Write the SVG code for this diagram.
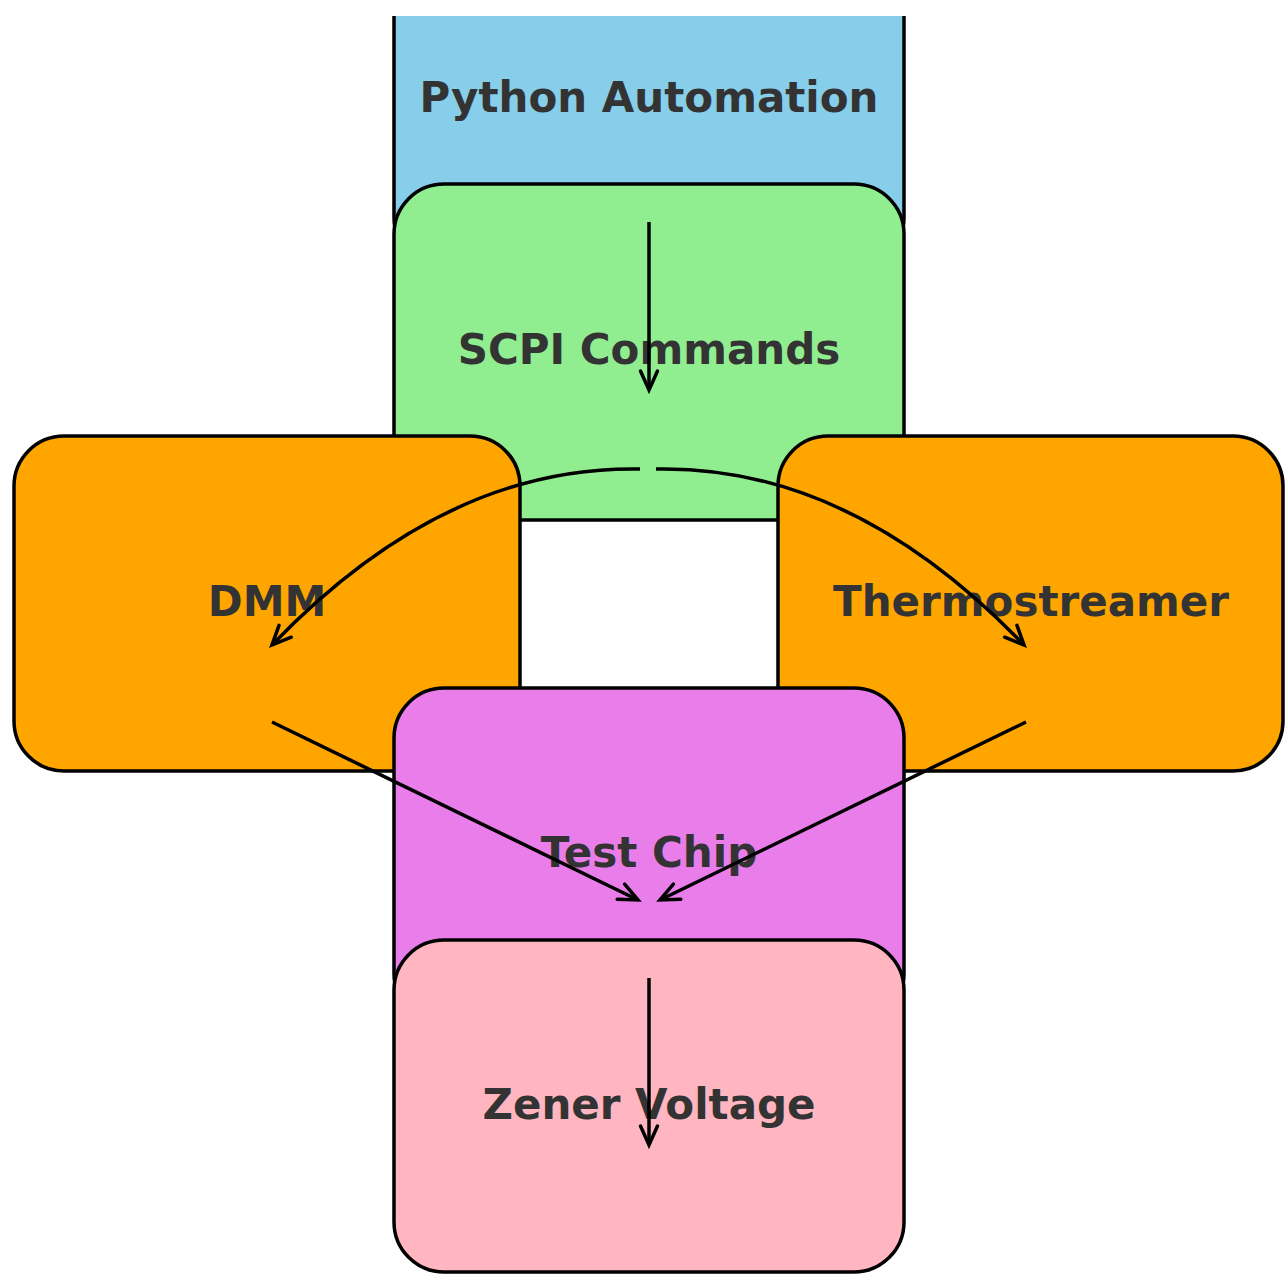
<svg xmlns="http://www.w3.org/2000/svg" width="1286" height="1277" viewBox="0 0 1286 1277">
  <style>
    .box { stroke: #000; stroke-width: 3.5; }
    .label { font-family: "DejaVu Sans", "Liberation Sans", sans-serif; font-weight: bold; font-size: 42px; fill: #333333; text-anchor: middle; }
    .edge { fill: none; stroke: #000; stroke-width: 3.5; marker-end: url(#arrow); }
  </style>
  <defs>
    <marker id="arrow" viewBox="-22 -12 26 24" refX="0" refY="0" markerWidth="26" markerHeight="24" markerUnits="userSpaceOnUse" orient="auto" overflow="visible">
      <path d="M-19,-8.5 L0,0 L-19,8.5" fill="none" stroke="#000" stroke-width="3.5" stroke-linejoin="miter" stroke-linecap="round"/>
    </marker>
    <clipPath id="page">
      <rect x="0" y="16" width="1286" height="1261"/>
    </clipPath>
  </defs>
  <rect width="1286" height="1277" fill="#ffffff"/>

  <g id="python" clip-path="url(#page)">
    <rect class="box" x="394" y="-68" width="510" height="336" rx="50" fill="#87CEEB"/>
    <text class="label" x="649" y="112">Python Automation</text>
  </g>
  <g id="scpi">
    <rect class="box" x="394" y="184" width="510" height="336" rx="50" fill="#90EE90"/>
    <text class="label" x="649" y="364">SCPI Commands</text>
  </g>
  <g id="dmm">
    <rect class="box" x="14" y="436" width="506" height="335" rx="50" fill="#FFA500"/>
    <text class="label" x="267" y="616">DMM</text>
  </g>
  <g id="thermostreamer">
    <rect class="box" x="778" y="436" width="505" height="335" rx="50" fill="#FFA500"/>
    <text class="label" x="1031" y="616">Thermostreamer</text>
  </g>
  <g id="testchip">
    <rect class="box" x="394" y="688" width="510" height="336" rx="50" fill="#E97EEA"/>
    <text class="label" x="649" y="867">Test Chip</text>
  </g>
  <g id="zener">
    <rect class="box" x="394" y="940" width="510" height="332" rx="50" fill="#FFB6C1"/>
    <text class="label" x="649" y="1119">Zener Voltage</text>
  </g>

  <g id="connectors">
    <path class="edge" d="M649,222 L649,390"/>
    <path class="edge" d="M640,469 Q445,465 272,645"/>
    <path class="edge" d="M656,469 Q851,465 1024,645"/>
    <path class="edge" d="M272,722 L638,900"/>
    <path class="edge" d="M1026,722 L660,900"/>
    <path class="edge" d="M649,978 L649,1145"/>
  </g>
</svg>
